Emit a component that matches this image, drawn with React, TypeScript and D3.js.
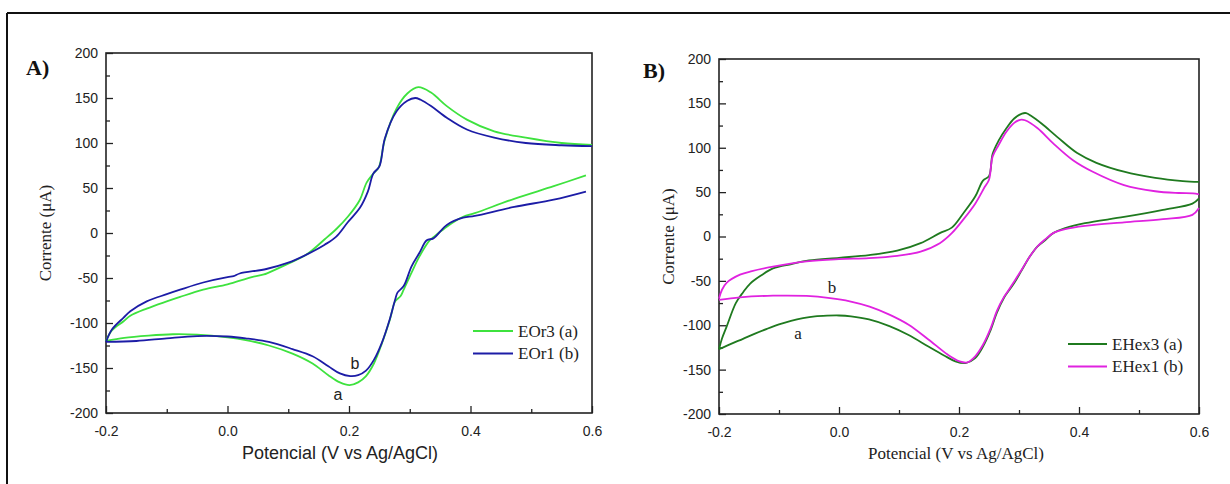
import React, { useEffect, useRef } from 'react';
import * as d3 from 'd3';

// potential (V vs Ag/AgCl), current (uA)
const eor3Forward = [[-0.2,-120],[-0.19,-108],[-0.171,-98],[-0.16,-92],[-0.133,-84],[-0.1,-76],[-0.078,-71],[-0.04,-63],[0.0,-57],[0.04,-49],[0.06,-46],[0.066,-44.5],[0.1,-34],[0.13,-24],[0.16,-7],[0.18,5],[0.198,18],[0.218,37],[0.229,56],[0.24,66],[0.249,73],[0.259,104],[0.278,138],[0.296,155],[0.314,162],[0.335,156],[0.361,141],[0.394,126],[0.439,113],[0.491,106],[0.55,100],[0.6,98]];
const eor3Reverse = [[0.59,64],[0.537,52],[0.472,38],[0.407,22],[0.388,18],[0.361,7],[0.342,-3],[0.333,-8],[0.316,-26],[0.303,-44],[0.29,-63],[0.285,-70],[0.276,-76],[0.267,-97],[0.254,-123],[0.241,-145],[0.228,-159],[0.215,-166],[0.201,-169],[0.185,-166],[0.166,-158],[0.14,-145],[0.107,-134],[0.068,-125],[0.03,-119],[0.0,-116],[-0.05,-113],[-0.09,-112.5],[-0.13,-114],[-0.17,-116.5],[-0.2,-120]];
const eor1Forward = [[-0.2,-121],[-0.19,-107],[-0.171,-94],[-0.16,-87],[-0.133,-76],[-0.1,-68],[-0.078,-63],[-0.04,-55],[0.0,-49],[0.01,-48],[0.02,-45],[0.064,-40],[0.1,-33],[0.13,-24],[0.16,-13],[0.179,-4],[0.198,12],[0.218,28],[0.231,46],[0.24,66],[0.25,74],[0.259,105],[0.278,135],[0.296,147],[0.309,150],[0.318,148],[0.335,141],[0.361,128],[0.394,115],[0.439,106],[0.491,100],[0.55,97.5],[0.6,96.5]];
const eor1Reverse = [[0.59,46],[0.537,37],[0.472,29],[0.407,19],[0.388,17],[0.361,9],[0.339,-6],[0.328,-8],[0.316,-22],[0.303,-37],[0.29,-59],[0.28,-66],[0.276,-74],[0.267,-96],[0.254,-122],[0.241,-141],[0.228,-153],[0.215,-158],[0.202,-159],[0.185,-156],[0.166,-148],[0.14,-137],[0.107,-129],[0.068,-121],[0.03,-117],[0.0,-115],[-0.05,-114.5],[-0.1,-117],[-0.15,-120],[-0.2,-121]];

const ehex3Forward = [[-0.2,-127],[-0.195,-115],[-0.187,-101],[-0.172,-75],[-0.16,-63],[-0.148,-53],[-0.13,-44],[-0.11,-36],[-0.079,-31],[-0.05,-27],[0.0,-24],[0.05,-21],[0.097,-16],[0.136,-7.5],[0.168,3.8],[0.188,10],[0.207,26],[0.227,45],[0.24,63],[0.25,68],[0.256,93],[0.266,108],[0.279,122],[0.292,133],[0.305,138.5],[0.312,139],[0.32,136],[0.338,127],[0.364,112],[0.397,94],[0.429,83],[0.475,73],[0.527,66],[0.573,62.5],[0.6,61.5]];
const ehex3Reverse = [[0.6,43],[0.589,37],[0.54,30],[0.475,22],[0.41,15],[0.377,9.4],[0.357,3.8],[0.344,-4],[0.331,-11],[0.318,-22.5],[0.305,-37.5],[0.292,-52.5],[0.282,-62],[0.275,-69],[0.263,-86],[0.253,-105],[0.24,-124],[0.227,-137],[0.211,-142.6],[0.194,-140.7],[0.175,-134],[0.149,-124],[0.116,-111],[0.084,-101],[0.05,-93.5],[0.02,-90],[0.0,-89],[-0.02,-89.2],[-0.04,-90],[-0.06,-92],[-0.08,-95],[-0.1,-99],[-0.12,-104],[-0.14,-109.5],[-0.16,-115.3],[-0.18,-121],[-0.2,-127]];
const ehex1Forward = [[-0.2,-70],[-0.195,-60],[-0.187,-52],[-0.165,-43],[-0.145,-39],[-0.11,-34],[-0.054,-28],[0.0,-25.5],[0.05,-24.4],[0.097,-21.8],[0.136,-17],[0.168,-7.5],[0.188,3.8],[0.207,19],[0.227,37],[0.243,56],[0.25,64],[0.256,90],[0.266,103],[0.279,118],[0.292,128],[0.302,131.5],[0.31,131],[0.331,122],[0.357,105],[0.39,86],[0.423,73],[0.475,58],[0.527,51],[0.566,49],[0.59,48.5],[0.6,47.5]];
const ehex1Reverse = [[0.6,32],[0.589,24.4],[0.54,19.5],[0.475,16],[0.41,12],[0.377,8.3],[0.357,3.8],[0.344,-3],[0.331,-11],[0.318,-22.5],[0.305,-36.8],[0.292,-50.7],[0.282,-61],[0.275,-68],[0.263,-84],[0.253,-103],[0.24,-122],[0.227,-135],[0.214,-141.8],[0.201,-140.7],[0.181,-133],[0.149,-116],[0.116,-99.4],[0.084,-88],[0.051,-79],[0.018,-73],[-0.015,-69.4],[-0.054,-67],[-0.11,-66.7],[-0.165,-68.5],[-0.2,-71.5]];

const xTicks = [-0.2, 0.0, 0.2, 0.4, 0.6];
const xMinor = [-0.1, 0.1, 0.3, 0.5];
const yTicks = [-200, -150, -100, -50, 0, 50, 100, 150, 200];
const yMinor = [-175, -125, -75, -25, 25, 75, 125, 175];

const SANS = '"Liberation Sans", Arial, sans-serif';
const SERIF = '"Liberation Serif", "Times New Roman", serif';

const hyphen = f => d => f(d).replace('\u2212', '-');

const panels = [
  {
    box: { l: 106, r: 592, t: 53, b: 413 },
    tag: 'A)', tagX: 26, tagY: 75,
    yTitleX: 51, xTitleX: 340, xTitleFont: SANS, xTitleSize: 18,
    noteFont: SANS, noteSize: 16,
    notes: [{ t: 'b', x: 355, y: 369 }, { t: 'a', x: 338, y: 400 }],
    legend: { x1: 473, x2: 513, y: 331 },
    series: [
      { name: 'EOr3 (a)', color: '#3ee23e', parts: [eor3Forward, eor3Reverse] },
      { name: 'EOr1 (b)', color: '#1c1ca6', parts: [eor1Forward, eor1Reverse] },
    ],
  },
  {
    box: { l: 719, r: 1199, t: 59, b: 414 },
    tag: 'B)', tagX: 643, tagY: 78,
    yTitleX: 674, xTitleX: 956, xTitleFont: SERIF, xTitleSize: 17,
    noteFont: SERIF, noteSize: 17,
    notes: [{ t: 'b', x: 832, y: 293 }, { t: 'a', x: 798, y: 339 }],
    legend: { x1: 1068, x2: 1107, y: 344 },
    series: [
      { name: 'EHex3 (a)', color: '#1f7a1f', parts: [ehex3Forward, ehex3Reverse] },
      { name: 'EHex1 (b)', color: '#e022e0', parts: [ehex1Forward, ehex1Reverse] },
    ],
  },
];

const App = () => {
  const ref = useRef(null);

  useEffect(() => {
    const svg = d3.select(ref.current);
    svg.selectAll('*').remove();

    // outer frame (only left and top edges are inside the picture)
    svg.append('line').attr('x1', 7).attr('x2', 7).attr('y1', 13).attr('y2', 484)
      .attr('stroke', '#111').attr('stroke-width', 2);
    svg.append('line').attr('x1', 7).attr('x2', 1230).attr('y1', 13).attr('y2', 13)
      .attr('stroke', '#111').attr('stroke-width', 2);

    panels.forEach(p => {
      const { l, r, t, b } = p.box;
      const x = d3.scaleLinear().domain([-0.2, 0.6]).range([l, r]);
      const y = d3.scaleLinear().domain([-200, 200]).range([b, t]);
      const g = svg.append('g');

      const style = sel => {
        sel.select('.domain').remove();
        sel.selectAll('line').attr('stroke', '#222').attr('stroke-width', 1.3);
        sel.selectAll('text').attr('font-family', SANS).attr('font-size', 14).attr('fill', '#222');
      };

      g.append('g').attr('transform', `translate(0,${b})`)
        .call(d3.axisBottom(x).tickValues(xTicks).tickSize(-7).tickPadding(13).tickFormat(hyphen(d3.format('.1f'))))
        .call(style);
      g.append('g').attr('transform', `translate(0,${b})`)
        .call(d3.axisBottom(x).tickValues(xMinor).tickSize(-4).tickFormat(() => ''))
        .call(style);
      g.append('g').attr('transform', `translate(${l},0)`)
        .call(d3.axisLeft(y).tickValues(yTicks).tickSize(-7).tickPadding(8).tickFormat(hyphen(d3.format('d'))))
        .call(style);
      g.append('g').attr('transform', `translate(${l},0)`)
        .call(d3.axisLeft(y).tickValues(yMinor).tickSize(-4).tickFormat(() => ''))
        .call(style);

      g.append('rect').attr('x', l).attr('y', t).attr('width', r - l).attr('height', b - t)
        .attr('fill', 'none').attr('stroke', '#222').attr('stroke-width', 1.6);

      const line = d3.line().x(d => x(d[0])).y(d => y(d[1])).curve(d3.curveCatmullRom.alpha(0.5));
      p.series.forEach(s => {
        s.parts.forEach(part => {
          g.append('path').attr('d', line(part)).attr('fill', 'none')
            .attr('stroke', s.color).attr('stroke-width', 1.8).attr('stroke-linejoin', 'round');
        });
      });

      // legend
      p.series.forEach((s, i) => {
        const ly = p.legend.y + i * 22.5;
        g.append('line').attr('x1', p.legend.x1).attr('x2', p.legend.x2).attr('y1', ly).attr('y2', ly)
          .attr('stroke', s.color).attr('stroke-width', 1.8);
        g.append('text').attr('x', p.legend.x2 + 5).attr('y', ly).attr('dy', '0.35em')
          .attr('font-family', SERIF).attr('font-size', 17).attr('fill', '#222').text(s.name);
      });

      p.notes.forEach(n => {
        g.append('text').attr('x', n.x).attr('y', n.y).attr('text-anchor', 'middle')
          .attr('font-family', p.noteFont).attr('font-size', p.noteSize).attr('fill', '#222').text(n.t);
      });

      g.append('text').attr('x', p.tagX).attr('y', p.tagY)
        .attr('font-family', SERIF).attr('font-weight', 'bold').attr('font-size', 22).attr('fill', '#111')
        .text(p.tag);

      g.append('text').attr('transform', `translate(${p.yTitleX},${(t + b) / 2}) rotate(-90)`)
        .attr('text-anchor', 'middle').attr('font-family', SERIF).attr('font-size', 17).attr('fill', '#222')
        .text('Corrente (\u03bcA)');

      g.append('text').attr('x', p.xTitleX).attr('y', 459).attr('text-anchor', 'middle')
        .attr('font-family', p.xTitleFont).attr('font-size', p.xTitleSize).attr('fill', '#222')
        .text('Potencial (V vs Ag/AgCl)');
    });
  }, []);

  return (
    <svg ref={ref} width={1230} height={484}
      style={{ position: 'absolute', left: 0, top: 0, background: '#fff' }} />
  );
};

export default App;
